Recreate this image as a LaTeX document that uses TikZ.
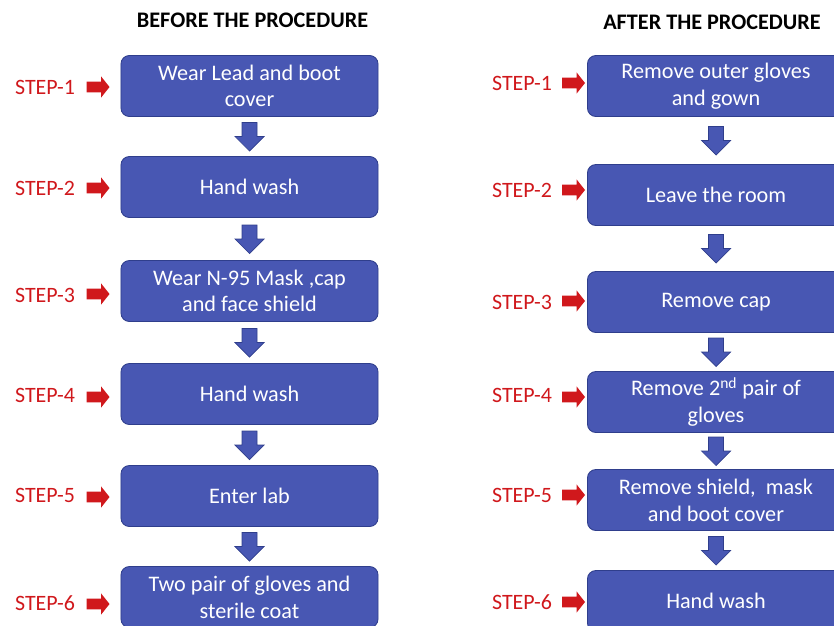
\documentclass[tikz,border=0pt]{standalone}
\usepackage{fontspec}
\setmainfont{Carlito}
\usetikzlibrary{calc}

\definecolor{boxblue}{RGB}{72,87,179}
\definecolor{boxline}{RGB}{47,62,140}
\definecolor{stepred}{RGB}{208,24,28}

\tikzset{
  procbox/.style={draw=boxline, line width=0.6pt, fill=boxblue, rounded corners=6pt,
    minimum width=6.425cm, minimum height=1.525cm, inner sep=0pt, text=white,
    align=center, font=\fontsize{15.8}{19}\selectfont},
  steplabel/.style={text=stepred, font=\fontsize{15.6}{19}\selectfont},
  headline/.style={font=\bfseries\fontsize{15.8}{19}\selectfont},
  downarr/.pic={\draw[boxline, fill=boxblue, line width=0.5pt]
    (-7.5,-14) -- (7.5,-14) -- (7.5,0) -- (14.5,0) -- (0,14.5) -- (-14.5,0) -- (-7.5,0) -- cycle;},
  steparr/.pic={\fill[stepred]
    (-11.5,-5.3) -- (3,-5.3) -- (3,-10.7) -- (11.5,0) -- (3,10.7) -- (3,5.3) -- (-11.5,5.3) -- cycle;}
}

\begin{document}
\begin{tikzpicture}[x=0.025cm, y=-0.025cm]
\useasboundingbox (0,0) rectangle (834,625);

\node[headline] (before) at (252.5,20) {BEFORE THE PROCEDURE};
\node[headline] (after) at (712,22) {AFTER THE PROCEDURE};

% before the procedure
\foreach \i/\y/\txt in {1/86/{Wear Lead and boot\\cover}, 2/187/{Hand wash},
    3/291/{Wear N-95 Mask ,cap\\and face shield}, 4/394/{Hand wash},
    5/496/{Enter lab}, 6/597/{Two pair of gloves and\\sterile coat}}
  \node[procbox] (b\i) at (249.5,\y) {\txt};
\foreach \i/\ly/\ay in {1/87/87, 2/188/188, 3/295/294, 4/395/397, 5/495/497, 6/603/604} {
  \node[steplabel] (bs\i) at (45,\ly) {STEP-\i};
  \path (98,\ay) pic {steparr};
}
\foreach \i in {1,...,5} {
  \pgfmathtruncatemacro\j{\i+1}
  \path ($(b\i.south)!.5!(b\j.north)$) pic {downarr};
}

% after the procedure
\foreach \i/\y/\txt in {1/86/{Remove outer gloves\\and gown}, 2/195/{Leave the room},
    3/302/{Remove cap}, 4/402/{Remove 2\textsuperscript{nd} pair of\\gloves},
    5/500/{Remove shield,\ \ mask\\and boot cover}, 6/601/{Hand wash}}
  \node[procbox] (a\i) at (716,\y) {\txt};
\foreach \i/\ly/\ay in {1/83/83, 2/190/190, 3/302/301, 4/395/397, 5/495/495, 6/602/602} {
  \node[steplabel] (as\i) at (522,\ly) {STEP-\i};
  \path (573.5,\ay) pic {steparr};
}
\foreach \i in {1,...,5} {
  \pgfmathtruncatemacro\j{\i+1}
  \path ($(a\i.south)!.5!(a\j.north)$) pic {downarr};
}
\end{tikzpicture}
\end{document}
